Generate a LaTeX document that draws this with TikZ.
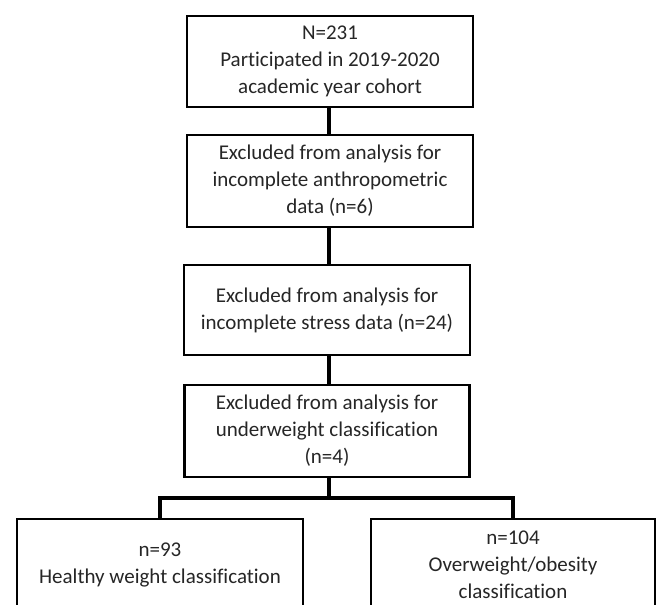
\documentclass[tikz,border=0pt]{standalone}
\usepackage{fontspec}
\setmainfont[RawFeature={-liga;-clig;-calt;-dlig;-rlig}]{Carlito}
\begin{document}
\begin{tikzpicture}[x=1pt,y=-1pt,
  box/.style={draw=black, line width=2.6pt, fill=white, align=center, inner sep=0pt,
    font=\fontsize{21}{27}\selectfont, text=black!85},
  link/.style={draw=black, line width=3.2pt}]
\useasboundingbox (0,0) rectangle (659,605);
\fill[white] (0,0) rectangle (659,605);
\node[box, minimum width=286pt, minimum height=91pt] (b1) at (330,61.5) {N=231\\Participated in 2019-2020\\academic year cohort};
\node[box, minimum width=286pt, minimum height=92pt] (b2) at (330,181) {Excluded from analysis for\\incomplete anthropometric\\data (n=6)};
\node[box, minimum width=286pt, minimum height=90pt] (b3) at (327,310) {Excluded from analysis for\\incomplete stress data (n=24)};
\node[box, minimum width=285pt, minimum height=92pt] (b4) at (327,431) {Excluded from analysis for\\underweight classification\\(n=4)};
\node[box, minimum width=286pt, minimum height=92pt] (b5) at (160,565) {n=93\\Healthy weight classification};
\node[box, minimum width=284pt, minimum height=92pt] (b6) at (513,565) {n=104\\Overweight/obesity\\classification};
\coordinate (cx) at (329,0);
\coordinate (split) at (329,498);
\draw[link] (b1.south -| cx) -- (b2.north -| cx);
\draw[link] (b2.south -| cx) -- (b3.north -| cx);
\draw[link] (b3.south -| cx) -- (b4.north -| cx);
\draw[link] (b4.south -| cx) -- (split);
\draw[link, line join=miter] (b5.north) |- (split) -| (b6.north);
\end{tikzpicture}
\end{document}
